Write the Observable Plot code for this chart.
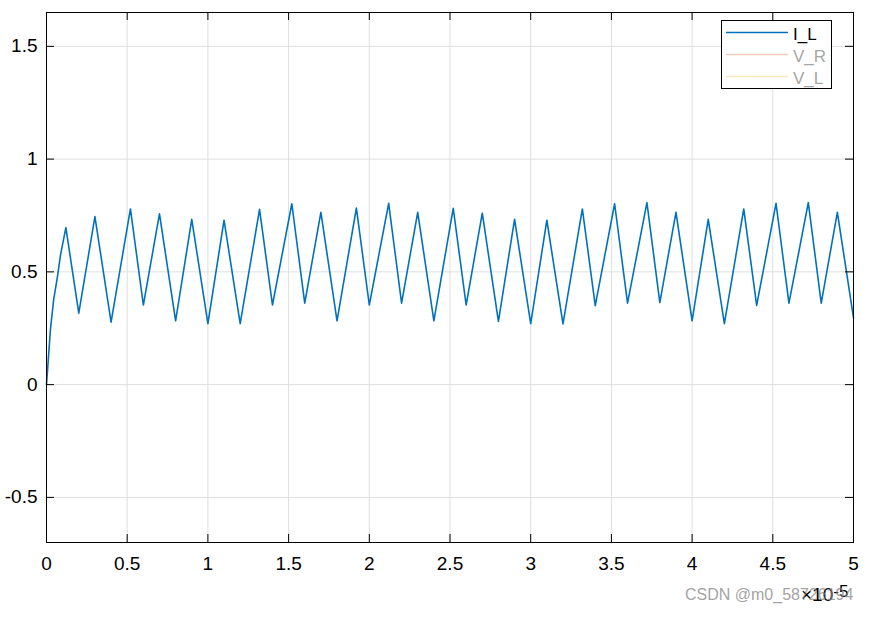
<!DOCTYPE html>
<html>
<head>
<meta charset="utf-8">
<script src="https://cdn.jsdelivr.net/npm/d3@7"></script>
<script src="https://cdn.jsdelivr.net/npm/@observablehq/plot@0.6"></script>
<style>
  html, body { margin: 0; padding: 0; background: #fff; }
  #chart { width: 875px; height: 619px; }
</style>
</head>
<body>
<div id="chart"></div>
<script>
// time in units of 1e-5 s
const time = [0, 0.025, 0.045, 0.066, 0.087, 0.12, 0.20, 0.30, 0.40, 0.52, 0.60, 0.70, 0.80, 0.90, 1.00, 1.10, 1.20, 1.32, 1.40, 1.52, 1.60, 1.70, 1.80, 1.92, 2.00, 2.12, 2.20, 2.30, 2.40, 2.52, 2.60, 2.70, 2.80, 2.90, 3.00, 3.10, 3.20, 3.32, 3.40, 3.52, 3.60, 3.72, 3.80, 3.90, 4.00, 4.10, 4.20, 4.32, 4.40, 4.52, 4.60, 4.72, 4.80, 4.90, 5.00];
const currentIL = [0, 0.25, 0.38, 0.47, 0.575, 0.696, 0.317, 0.745, 0.277, 0.779, 0.353, 0.757, 0.283, 0.733, 0.270, 0.729, 0.270, 0.777, 0.353, 0.802, 0.361, 0.764, 0.283, 0.783, 0.353, 0.804, 0.361, 0.764, 0.283, 0.782, 0.353, 0.760, 0.280, 0.733, 0.270, 0.729, 0.269, 0.779, 0.350, 0.802, 0.361, 0.807, 0.364, 0.764, 0.283, 0.733, 0.270, 0.779, 0.351, 0.804, 0.361, 0.807, 0.361, 0.764, 0.296];
const xTicks = [0, 0.5, 1, 1.5, 2, 2.5, 3, 3.5, 4, 4.5, 5];
const yTicks = [-0.5, 0, 0.5, 1, 1.5];
const seriesNames = ["I_L", "V_R", "V_L"];
const seriesColors = ["#0072BD", "#f4cbba", "#fae8bc"];
const seriesTextColors = ["#000000", "#a6a6a6", "#a6a6a6"];
const exponentText = ["×10", "-5"];
const watermark = "CSDN @m0_58726194";

const data = time.map((t, i) => ({t, v: currentIL[i]}));
const fmt = d => String(d).replace("\u2212", "-");

const W = 875, H = 619, mL = 46, mR = 22, mT = 12, mB = 77;
const innerW = W - mL - mR, innerH = H - mT - mB;
const tickLen = 8;

const plot = Plot.plot({
  width: W, height: H,
  marginLeft: mL, marginRight: mR, marginTop: mT, marginBottom: mB,
  style: {fontFamily: "'Liberation Sans', Arial, Helvetica, sans-serif", fontSize: "19px", background: "#fff", color: "#000"},
  x: {domain: [0, 5], ticks: xTicks, tickFormat: fmt},
  y: {domain: [-0.7, 1.65], ticks: yTicks, tickFormat: fmt},
  marks: [
    Plot.gridX(xTicks, {stroke: "#dfdfdf", strokeOpacity: 1}),
    Plot.gridY(yTicks, {stroke: "#dfdfdf", strokeOpacity: 1}),
    Plot.line(data, {x: "t", y: "v", stroke: seriesColors[0], strokeWidth: 1.6}),
    Plot.ruleX(xTicks, {stroke: "#000", insetTop: innerH - tickLen}),
    Plot.ruleX(xTicks, {stroke: "#000", insetBottom: innerH - tickLen}),
    Plot.ruleY(yTicks, {stroke: "#000", insetRight: innerW - tickLen}),
    Plot.ruleY(yTicks, {stroke: "#000", insetLeft: innerW - tickLen}),
    Plot.frame({stroke: "#000", strokeWidth: 1}),
    Plot.axisX(xTicks, {tickSize: 0, tickPadding: 14, label: null, tickFormat: fmt}),
    Plot.axisY(yTicks, {tickSize: 0, tickPadding: 9, label: null, tickFormat: fmt})
  ]
});
document.getElementById("chart").appendChild(plot);

const svg = d3.select(plot);
// legend
const lg = svg.append("g").attr("font-family", "'Liberation Sans', Arial, sans-serif").attr("text-anchor", "start");
lg.append("rect").attr("x", 721.5).attr("y", 20.5).attr("width", 110).attr("height", 68)
  .attr("fill", "#fff").attr("stroke", "#000").attr("stroke-width", 1);
seriesNames.forEach((name, i) => {
  const cy = 32.5 + i * 22;
  lg.append("line").attr("x1", 726).attr("x2", 788).attr("y1", cy).attr("y2", cy)
    .attr("stroke", seriesColors[i]).attr("stroke-width", 1.6);
  lg.append("text").attr("x", 793).attr("y", cy + 7.5).attr("font-size", 17)
    .attr("fill", seriesTextColors[i]).text(name);
});
// exponent
const ex = svg.append("text").attr("x", 801).attr("y", 601).attr("text-anchor", "start")
  .attr("font-family", "'Liberation Sans', Arial, sans-serif").attr("font-size", 19).attr("fill", "#000");
ex.append("tspan").text(exponentText[0]);
ex.append("tspan").attr("dy", -4).attr("font-size", 17).text(exponentText[1]);
// watermark
svg.append("text").attr("x", 685).attr("y", 600).attr("text-anchor", "start")
  .attr("font-family", "'Liberation Sans', Arial, sans-serif").attr("font-size", 16)
  .attr("fill", "rgba(130,130,130,0.75)").text(watermark);
</script>
</body>
</html>
